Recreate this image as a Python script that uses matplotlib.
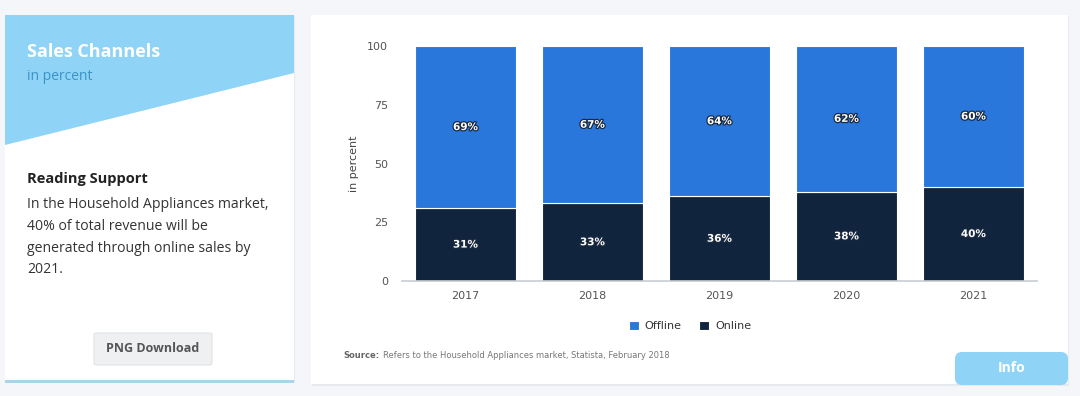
import numpy as np
import matplotlib.pyplot as plt
import matplotlib.patheffects as pe
from matplotlib.patches import Rectangle, Polygon, FancyBboxPatch

years = ["2017", "2018", "2019", "2020", "2021"]
online = [31, 33, 36, 38, 40]
offline = [69, 67, 64, 62, 60]
y_ticks = [0, 25, 50, 75, 100]

paragraph = [
    "In the Household Appliances market,",
    "40% of total revenue will be",
    "generated through online sales by",
    "2021.",
]

W, H = 1080, 396
c_offline = "#2a77dc"
c_online = "#10243d"
c_sky = "#8fd4f6"


def main() -> None:
    fig = plt.figure(figsize=(W / 100, H / 100), dpi=100)
    fig.patch.set_facecolor("#f4f6f9")

    # page layer in pixel coordinates
    bg = fig.add_axes([0, 0, 1, 1], zorder=0)
    bg.set_xlim(0, W)
    bg.set_ylim(H, 0)
    bg.axis("off")

    # left card
    bg.add_patch(Rectangle((6, 16), 289, 367, facecolor="#e6e9ee", edgecolor="none"))
    bg.add_patch(Rectangle((5, 15), 289, 366, facecolor="white", edgecolor="none"))
    bg.add_patch(Polygon([(5, 15), (294, 15), (294, 73), (5, 145)],
                         closed=True, facecolor=c_sky, edgecolor="none"))
    bg.add_patch(Rectangle((5, 380), 289, 3, facecolor="#a9d5ea", edgecolor="none"))

    bg.text(27, 52, "Sales Channels", fontsize=13, fontweight="bold", color="white",
            family="Open Sans", va="center")
    bg.text(27, 76, "in percent", fontsize=10, color="#3a93c7", family="Open Sans",
            va="center")
    bg.text(27, 179, "Reading Support", fontsize=10.5, fontweight="bold", color="#222222",
            family="Open Sans", va="center")
    for i, line in enumerate(paragraph):
        bg.text(27, 205 + i * 21.5, line, fontsize=10.1, color="#333333",
                family="Open Sans", va="center")

    bg.add_patch(FancyBboxPatch((94, 333), 118, 32, boxstyle="round,pad=0,rounding_size=2",
                                facecolor="#eef0f2", edgecolor="#e0e3e6", lw=0.8))
    bg.text(153, 349, "PNG Download", fontsize=9, fontweight="bold", color="#555555",
            family="Open Sans", ha="center", va="center")

    # right card
    bg.add_patch(Rectangle((312, 16), 757, 370, facecolor="#e6e9ee", edgecolor="none"))
    bg.add_patch(Rectangle((311, 15), 757, 369, facecolor="white", edgecolor="none"))
    bg.add_patch(FancyBboxPatch((955, 352), 113, 33, boxstyle="round,pad=0,rounding_size=7",
                                facecolor=c_sky, edgecolor="none"))
    bg.text(1012, 368, "Info", fontsize=10, fontweight="bold", color="white",
            family="Open Sans", ha="center", va="center")

    src = bg.text(343, 355, "Source:", fontsize=6, fontweight="bold", color="#666666",
                  family="DejaVu Sans", va="center")
    bg.annotate("Refers to the Household Appliances market, Statista, February 2018",
                xy=(1, 0.5), xycoords=src, xytext=(2.5, 0), textcoords="offset points",
                fontsize=6, color="#777777", family="DejaVu Sans", va="center")

    # chart
    ax = fig.add_axes([402 / W, 1 - 281 / H, 635 / W, 235 / H], zorder=1)
    ax.set_facecolor("none")
    x = np.arange(len(years))
    ax.bar(x, online, width=0.8, color=c_online, edgecolor="white", lw=0.8,
           label="Online", zorder=2)
    ax.bar(x, offline, bottom=online, width=0.8, color=c_offline, edgecolor="white",
           lw=0.8, label="Offline", zorder=2)

    stroke = [pe.withStroke(linewidth=1.8, foreground="#1a2a40")]
    for xi, on, off in zip(x, online, offline):
        ax.text(xi, on / 2, f"{on}%", ha="center", va="center", color="white",
                fontsize=7.5, fontweight="bold", path_effects=stroke, zorder=3)
        ax.text(xi, on + off / 2, f"{off}%", ha="center", va="center", color="white",
                fontsize=7.5, fontweight="bold", path_effects=stroke, zorder=3)

    ax.set_xlim(-0.5, len(years) - 0.5)
    ax.set_ylim(0, 100)
    ax.set_xticks(x, years)
    ax.set_yticks(y_ticks)
    ax.tick_params(length=0, labelsize=8, labelcolor="#555555", pad=10)
    ax.tick_params(axis="x", pad=7)
    for s in ["top", "right", "left"]:
        ax.spines[s].set_visible(False)
    ax.spines["bottom"].set_color("#c8ccd1")
    ax.spines["bottom"].set_linewidth(1.2)
    ax.set_ylabel("in percent", fontsize=8, color="#444444", labelpad=6)

    handles, labels = ax.get_legend_handles_labels()
    leg = fig.legend(handles[::-1], labels[::-1], loc="center",
                     bbox_to_anchor=(690 / W, 1 - 326 / H), ncol=2, frameon=False,
                     fontsize=8, handlelength=0.9, handleheight=0.9, handletextpad=0.5,
                     columnspacing=1.6)
    for t in leg.get_texts():
        t.set_color("#333333")

    fig.savefig("out.png", dpi=100, facecolor=fig.get_facecolor())


if __name__ == "__main__":
    main()
